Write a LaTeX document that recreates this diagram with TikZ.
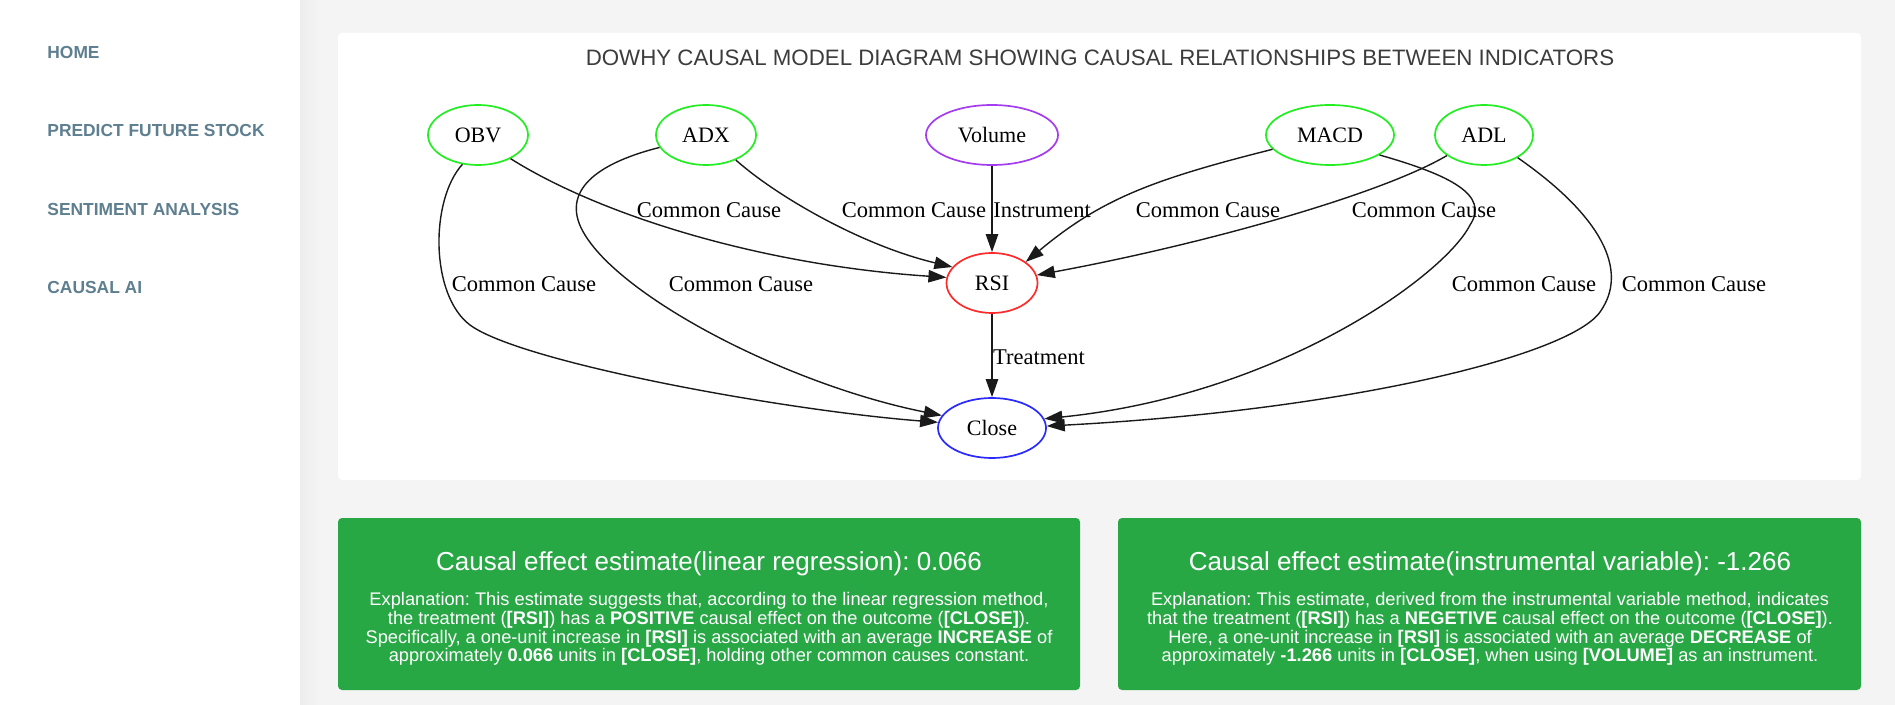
\documentclass[tikz,border=0pt]{standalone}
\usepackage{fontspec}
\setmainfont{Liberation Serif}
\newfontfamily\uifont{Liberation Sans}
\usepackage{tikz}
\usetikzlibrary{arrows.meta,shapes.geometric}
\frenchspacing
\definecolor{pagebg}{HTML}{F4F4F4}
\definecolor{navc}{HTML}{5E7F90}
\definecolor{titc}{HTML}{3C3C3C}
\definecolor{okgreen}{HTML}{28A745}
\definecolor{gvgreen}{HTML}{22EE22}
\definecolor{gvred}{HTML}{FF2A2A}
\definecolor{gvblue}{HTML}{2A2AFF}
\definecolor{gvpurple}{HTML}{A43CF0}
\definecolor{edgec}{HTML}{1A1A1A}
\tikzset{
  ar/.style={-{Triangle[length=9pt,width=6.2pt]},line width=0.7pt,edgec},
  nd/.style={ellipse,draw,line width=0.85pt,inner sep=0pt,minimum height=30pt,font=\fontsize{11}{13}\selectfont},
  lb/.style={inner sep=0pt,font=\fontsize{11.25}{13}\selectfont},
  nav/.style={anchor=west,inner sep=0pt,text=navc,font=\uifont\bfseries\fontsize{8.7}{10}\selectfont},
  ttl/.style={inner sep=0pt,text=titc,font=\uifont\fontsize{11.15}{13}\selectfont},
  est/.style={anchor=base,inner sep=0pt,text=white,font=\uifont\fontsize{13}{15}\selectfont},
  expl/.style={inner sep=0pt,text=white,align=center,font=\uifont\fontsize{9.13}{9.33}\selectfont}
}
\begin{document}
\begin{tikzpicture}[x=0.5pt,y=-0.5pt]
\useasboundingbox (0,0) rectangle (1895,705);
\fill[white] (0,0) rectangle (1895,705);
\fill[pagebg] (300,0) rectangle (1895,705);
\shade[left color=black!7,right color=pagebg] (300,0) rectangle (320,705);
\fill[white,rounded corners=2pt] (338,33) rectangle (1861,480);
\fill[okgreen,rounded corners=2pt] (338,518) rectangle (1080,690);
\fill[okgreen,rounded corners=2pt] (1118,518) rectangle (1861,690);

\node[nav] (nHome) at (47,53) {HOME};
\node[nav] (nPred) at (47,131) {PREDICT FUTURE STOCK};
\node[nav] (nSent) at (47,210) {SENTIMENT ANALYSIS};
\node[nav] (nCai) at (47,288) {CAUSAL AI};

\node[ttl] (ttl) at (1100,58) {DOWHY CAUSAL MODEL DIAGRAM SHOWING CAUSAL RELATIONSHIPS BETWEEN INDICATORS};

\node[nd,draw=gvgreen,minimum width=50pt] (OBV) at (478,135) {OBV};
\node[nd,draw=gvgreen,minimum width=50pt] (ADX) at (706,135) {ADX};
\node[nd,draw=gvpurple,minimum width=66pt] (Vol) at (992,135) {Volume};
\node[nd,draw=gvgreen,minimum width=64pt] (MACD) at (1330,135) {MACD};
\node[nd,draw=gvgreen,minimum width=49pt] (ADL) at (1484,135) {ADL};
\node[nd,draw=gvred,minimum width=45.5pt] (RSI) at (992,283) {RSI};
\node[nd,draw=gvblue,minimum width=54pt] (Close) at (992,428) {Close};

\draw[ar] (OBV.-36) .. controls (600,215) and (760,265) .. (RSI.173);
\draw[ar] (ADX.-40) .. controls (775,195) and (860,245) .. (RSI.158);
\draw[ar] (Vol) -- (RSI);
\draw[ar] (MACD.194) .. controls (1150,180) and (1100,200) .. (RSI.32);
\draw[ar] (ADL.-151) .. controls (1380,195) and (1200,245) .. (RSI.10);
\draw[ar] (OBV.-118) .. controls (430,200) and (430,295) .. (470,325) .. controls (520,362) and (780,410) .. (Close.174);
\draw[ar] (ADX.195) .. controls (590,165) and (560,195) .. (585,235) .. controls (625,300) and (790,385) .. (Close.166);
\draw[ar] (MACD.-22) .. controls (1450,175) and (1490,195) .. (1470,225) .. controls (1445,275) and (1280,395) .. (Close.10);
\draw[ar] (ADL.-34) .. controls (1600,215) and (1630,270) .. (1600,312) .. controls (1570,355) and (1350,410) .. (Close.2);
\draw[ar] (RSI) -- (Close);

\node[lb] (cc1) at (709,210) {Common Cause};
\node[lb] (cc2) at (914,210) {Common Cause};
\node[lb] (ins) at (1042,210) {Instrument};
\node[lb] (cc3) at (1208,210) {Common Cause};
\node[lb] (cc4) at (1424,210) {Common Cause};
\node[lb] (cc5) at (524,284) {Common Cause};
\node[lb] (cc6) at (741,284) {Common Cause};
\node[lb] (cc7) at (1524,284) {Common Cause};
\node[lb] (cc8) at (1694,284) {Common Cause};
\node[lb] (trt) at (1039,357) {Treatment};

\node[est] (est1) at (709,570) {Causal effect estimate(linear regression): 0.066};
\node[expl] (exp1) at (709,629) {Explanation: This estimate suggests that, according to the linear regression method,\\
the treatment (\textbf{[RSI]}) has a \textbf{POSITIVE} causal effect on the outcome (\textbf{[CLOSE]}).\\
Specifically, a one-unit increase in \textbf{[RSI]} is associated with an average \textbf{INCREASE} of\\
approximately \textbf{0.066} units in \textbf{[CLOSE]}, holding other common causes constant.};
\node[est] (est2) at (1490,570) {Causal effect estimate(instrumental variable): -1.266};
\node[expl] (exp2) at (1490,629) {Explanation: This estimate, derived from the instrumental variable method, indicates\\
that the treatment (\textbf{[RSI]}) has a \textbf{NEGETIVE} causal effect on the outcome (\textbf{[CLOSE]}).\\
Here, a one-unit increase in \textbf{[RSI]} is associated with an average \textbf{DECREASE} of\\
approximately \textbf{-1.266} units in \textbf{[CLOSE]}, when using \textbf{[VOLUME]} as an instrument.};
\end{tikzpicture}
\end{document}
